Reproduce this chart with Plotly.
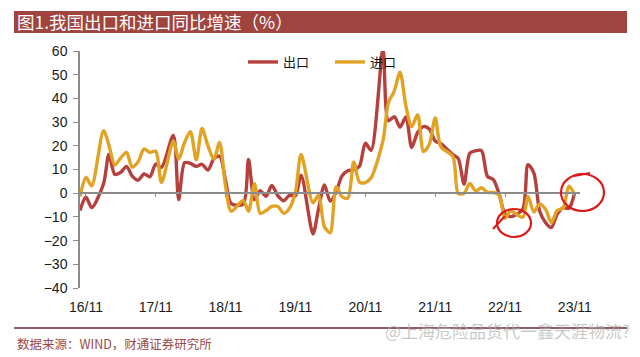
import plotly.graph_objects as go

# Monthly data (Jan-Feb combined values placed at February; January omitted)
months = [
    "2016-10", "2016-11", "2016-12",
    "2017-02", "2017-03", "2017-04", "2017-05", "2017-06", "2017-07", "2017-08", "2017-09", "2017-10", "2017-11", "2017-12",
    "2018-02", "2018-03", "2018-04", "2018-05", "2018-06", "2018-07", "2018-08", "2018-09", "2018-10", "2018-11", "2018-12",
    "2019-02", "2019-03", "2019-04", "2019-05", "2019-06", "2019-07", "2019-08", "2019-09", "2019-10", "2019-11", "2019-12",
    "2020-02", "2020-03", "2020-04", "2020-05", "2020-06", "2020-07", "2020-08", "2020-09", "2020-10", "2020-11", "2020-12",
    "2021-02", "2021-03", "2021-04", "2021-05", "2021-06", "2021-07", "2021-08", "2021-09", "2021-10", "2021-11", "2021-12",
    "2022-02", "2022-03", "2022-04", "2022-05", "2022-06", "2022-07", "2022-08", "2022-09", "2022-10", "2022-11", "2022-12",
    "2023-02", "2023-03", "2023-04", "2023-05", "2023-06", "2023-07", "2023-08", "2023-09", "2023-10", "2023-11",
]

exports_yoy = [
    -7.3, -1.6, -6.1,
    4.0, 16.4, 8.0, 8.7, 11.3, 7.2, 5.5, 8.1, 6.9, 12.3, 10.9,
    24.4, -2.7, 12.9, 12.6, 11.3, 12.2, 9.8, 14.5, 15.6, 5.4, -4.4,
    -4.6, 14.2, -2.7, 1.1, -1.3, 3.3, -1.0, -3.2, -0.9, -1.1, 7.6,
    -17.2, -6.6, 3.5, -3.3, 0.5, 7.2, 9.5, 9.9, 11.4, 21.1, 18.1,
    60.6, 30.6, 32.3, 27.9, 32.2, 19.3, 25.6, 28.1, 27.1, 22.0, 20.9,
    16.3, 14.7, 3.9, 16.9, 17.9, 18.0, 7.1, 5.7, -0.3, -8.7, -9.9,
    -6.8, 12.0, 8.5, -7.5, -12.4, -14.5, -8.8, -6.2, -6.4, 0.5,
]

imports_yoy = [
    -1.4, 6.7, 3.1,
    26.4, 20.3, 11.9, 14.8, 17.2, 11.0, 13.3, 18.7, 17.2, 17.7, 4.5,
    21.9, 14.4, 21.5, 26.0, 14.1, 27.3, 20.0, 14.3, 21.4, 3.0, -7.6,
    -3.1, -7.6, 4.0, -8.5, -7.3, -5.6, -5.6, -8.5, -6.4, 0.3, 16.3,
    -4.0, -0.9, -14.2, -16.7, 2.7, -1.4, -2.1, 13.2, 4.7, 4.5, 6.5,
    22.2, 38.1, 43.1, 51.1, 36.7, 28.1, 33.1, 17.6, 20.6, 31.7, 19.5,
    15.5, -0.1, 0.0, 4.1, 1.0, 2.3, 0.3, 0.3, -0.7, -10.6, -7.5,
    -10.2, -1.4, -7.9, -4.5, -6.8, -12.4, -7.3, -6.2, 3.0, -0.6,
]

tick_dates = ["2016-11-01", "2017-11-01", "2018-11-01", "2019-11-01",
              "2020-11-01", "2021-11-01", "2022-11-01", "2023-11-01"]
tick_labels = ["16/11", "17/11", "18/11", "19/11", "20/11", "21/11", "22/11", "23/11"]

series_names = ["出口", "进口"]
RED = "#B5403D"
GOLD = "#E2A324"
x_range = ["2016-10-01", "2023-11-28"]

W, H = 640, 357
L, R, T, B = 80, 60, 51, 69
PW, PH = W - L - R, H - T - B


def px(xp):
    return (xp - L) / PW


def py(yp):
    return (H - B - yp) / PH


fig = go.Figure()
# helper trace so the zero-line axis (x2) is drawn
fig.add_trace(go.Scatter(x=[x_range[0], x_range[1]], y=[None, None], xaxis="x2",
                         showlegend=False, hoverinfo="skip", mode="lines"))
fig.add_trace(go.Scatter(x=months, y=exports_yoy, name=series_names[0], mode="lines",
                         line=dict(color=RED, width=3.4, shape="spline", smoothing=0.8)))
fig.add_trace(go.Scatter(x=months, y=imports_yoy, name=series_names[1], mode="lines",
                         line=dict(color=GOLD, width=3.4, shape="spline", smoothing=0.8)))

AX = "#8C8C8C"
fig.update_layout(
    width=W, height=H,
    margin=dict(l=L, r=R, t=T, b=B),
    paper_bgcolor="white", plot_bgcolor="white",
    font=dict(family="Arial, Liberation Sans, Noto Sans CJK SC", size=14, color="#1a1a1a"),
    showlegend=True,
    legend=dict(orientation="h", x=px(243), y=py(62), xanchor="left", yanchor="middle",
                font=dict(family="Noto Sans CJK SC", size=13, color="#111"),
                bgcolor="rgba(0,0,0,0)", traceorder="normal", itemwidth=30, entrywidth=42),
    xaxis=dict(type="date", range=x_range, tickvals=tick_dates, ticktext=tick_labels,
               showline=False, ticks="", showgrid=False, zeroline=False,
               ticklabelstandoff=9, tickfont=dict(size=14, color="#1a1a1a")),
    xaxis2=dict(type="date", range=x_range, overlaying="x", anchor="free", position=0.4,
                tickvals=tick_dates, showticklabels=False, showline=True, linecolor=AX,
                linewidth=1.5, ticks="outside", ticklen=3, tickcolor=AX, showgrid=False,
                zeroline=False),
    yaxis=dict(range=[-40, 60], dtick=10, showline=True, linecolor=AX, linewidth=1.5,
               ticks="outside", ticklen=5, tickcolor=AX, showgrid=False, zeroline=False,
               tickfont=dict(size=14, color="#1a1a1a"), ticklabelstandoff=3),
)

# title band
fig.add_shape(type="rect", xref="paper", yref="paper", x0=px(14), x1=px(627),
              y0=py(33), y1=py(11), fillcolor="#A0443F", line=dict(width=0), layer="below")
fig.add_annotation(xref="paper", yref="paper", x=px(15), y=py(22), xanchor="left", yanchor="middle",
                   text="图1.我国出口和进口同比增速（%）", showarrow=False,
                   font=dict(family="Noto Sans CJK SC", size=17.5, color="white"))

# footer separator and source
fig.add_shape(type="line", xref="paper", yref="paper", x0=px(14), x1=px(627),
              y0=py(328), y1=py(328), line=dict(color="#8E5E66", width=2))
fig.add_annotation(xref="paper", yref="paper", x=px(15), y=py(343), xanchor="left", yanchor="middle",
                   text="数据来源：WIND，财通证券研究所", showarrow=False,
                   font=dict(family="Noto Sans CJK SC", size=12.5, color="#9A4A4A"))

# watermark
fig.add_annotation(xref="paper", yref="paper", x=px(632), y=py(330), xanchor="right", yanchor="middle",
                   text="@上海危险品货代一鑫天涯物流?", showarrow=False,
                   font=dict(family="Noto Sans CJK SC", size=17, color="rgba(175,175,175,0.7)"))

# hand-drawn red circles
CIRC = "#E01818"
fig.add_shape(type="circle", xref="paper", yref="paper", x0=px(497), x1=px(531),
              y0=py(237), y1=py(209), line=dict(color=CIRC, width=2.2))
fig.add_shape(type="line", xref="paper", yref="paper", x0=px(493), x1=px(505),
              y0=py(229), y1=py(216), line=dict(color=CIRC, width=2.2))
fig.add_shape(type="circle", xref="paper", yref="paper", x0=px(561), x1=px(604),
              y0=py(211), y1=py(174), line=dict(color=CIRC, width=2.2))
fig.add_shape(type="line", xref="paper", yref="paper", x0=px(574), x1=px(590),
              y0=py(176), y1=py(173), line=dict(color=CIRC, width=2.2))

fig.write_html("out.html", config={"displayModeBar": False},
               post_script="document.body.style.margin='0';")
